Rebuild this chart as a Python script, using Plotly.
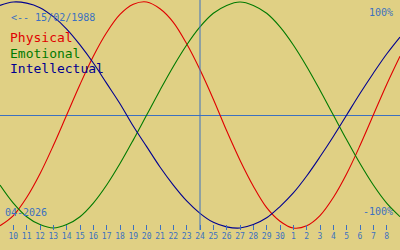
import pandas as pd
import plotly.graph_objects as go

# Dates shown (one point per day, Apr 9 .. May 9 2026)
dates = pd.date_range("2026-04-09", "2026-05-09", freq="D")
tick_dates = dates[1:30]
tick_labels = [str(d.day) for d in tick_dates]
today = "2026-04-24"

physical = [-0.98, -0.89, -0.73, -0.52, -0.27, 0.00, 0.27, 0.52, 0.73, 0.89, 0.98,
            1.00, 0.94, 0.82, 0.63, 0.40, 0.14, -0.14, -0.40, -0.63, -0.82, -0.94,
            -1.00, -0.98, -0.89, -0.73, -0.52, -0.27, 0.00, 0.27, 0.52]
emotional = [-0.62, -0.78, -0.90, -0.97, -1.00, -0.97, -0.90, -0.78, -0.62, -0.43, -0.22,
             0.00, 0.22, 0.43, 0.62, 0.78, 0.90, 0.97, 1.00, 0.97, 0.90, 0.78,
             0.62, 0.43, 0.22, 0.00, -0.22, -0.43, -0.62, -0.78, -0.90]
intellectual = [0.97, 1.00, 0.99, 0.95, 0.87, 0.76, 0.62, 0.46, 0.28, 0.10, -0.10,
                -0.28, -0.46, -0.62, -0.76, -0.87, -0.95, -0.99, -1.00, -0.97, -0.91, -0.81,
                -0.69, -0.54, -0.37, -0.19, 0.00, 0.19, 0.37, 0.54, 0.69]

series = [("Physical", physical, "#e00000"),
          ("Emotional", emotional, "#007a00"),
          ("Intellectual", intellectual, "#000090")]

BG = "#e0d084"
BLUE = "#3c70c0"
MONO = "DejaVu Sans Mono"

fig = go.Figure()
for name, vals, col in series:
    fig.add_trace(go.Scatter(x=dates, y=vals, mode="lines", name=name,
                             line=dict(color=col, width=1.1, shape="spline"),
                             hoverinfo="skip"))

fig.add_shape(type="line", xref="x", yref="paper", x0=today, x1=today, y0=0, y1=1,
              line=dict(color=BLUE, width=1))

ann = [
    ("<-- 15/02/1988", 10 / 400, 1 - 17 / 230, "left", 10, BLUE),
    ("100%", 394 / 400, 1 - 12 / 230, "right", 10, BLUE),
    ("-100%", 394 / 400, 1 - 211 / 230, "right", 10, BLUE),
    ("04-2026", 4 / 400, 1 - 212 / 230, "left", 10, BLUE),
]
for (name, vals, col), yy in zip(series, [38, 53, 68]):
    ann.append((name, 9 / 400, 1 - yy / 230, "left", 13, col))

for text, x, y, xa, size, col in ann:
    fig.add_annotation(text=text, x=x, y=y, xref="paper", yref="paper",
                       xanchor=xa, yanchor="middle", showarrow=False,
                       font=dict(family=MONO, size=size, color=col),
                       borderpad=0)

fig.update_layout(
    width=400, height=250,
    margin=dict(l=0, r=0, t=0, b=20),
    paper_bgcolor=BG, plot_bgcolor=BG,
    showlegend=False,
    xaxis=dict(range=[dates[0], dates[-1]], tickvals=tick_dates, ticktext=tick_labels,
               ticks="inside", ticklen=5, tickcolor=BLUE, tickwidth=1,
               tickfont=dict(family=MONO, size=8, color=BLUE),
               showgrid=False, zeroline=False, showline=False),
    yaxis=dict(range=[-1.0177, 1.0177], showticklabels=False, ticks="",
               showgrid=False, zeroline=True, zerolinecolor=BLUE, zerolinewidth=1,
               showline=False),
)

fig.write_html("out.html")
